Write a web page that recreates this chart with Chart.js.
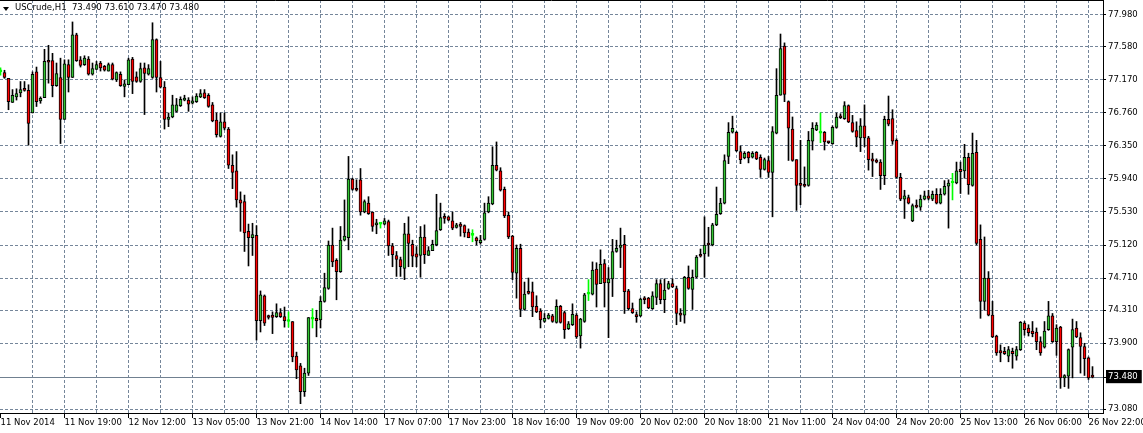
<!DOCTYPE html>
<html>
<head>
<meta charset="utf-8">
<title>USCrude H1</title>
<script src="https://cdn.jsdelivr.net/npm/chart.js@4.4.1/dist/chart.umd.min.js"></script>
<style>
  html, body { margin: 0; padding: 0; background: #fff; }
  #wrap { position: relative; width: 1143px; height: 433px; overflow: hidden; }
  #title { position: absolute; left: 15px; top: 2px; font: 8.5px "DejaVu Sans", sans-serif; color: #000; white-space: pre; }
  #arrow { position: absolute; left: 3px; top: 7px; width: 0; height: 0;
           border-left: 3px solid transparent; border-right: 3px solid transparent; border-top: 4px solid #000; }
</style>
</head>
<body>
<div id="wrap">
  <canvas id="chart" width="1143" height="433"></canvas>
  <div id="arrow"></div>
  <div id="title">USCrude,H1  73.490 73.610 73.470 73.480</div>
</div>
<script>
// hourly bars, 11 Nov 2014 -> 26 Nov 2014
const open = [
  77.27,77.26,77.19,76.89,76.96,77.01,77.05,77.04,76.76,77.27,76.91,76.95,77.40,77.41,77.10,77.20,
  76.68,77.36,77.20,77.73,77.42,77.36,77.43,77.24,77.30,77.38,77.34,77.28,77.36,77.17,77.24,77.09,
  77.11,77.43,77.21,77.15,77.32,77.24,77.20,77.67,77.20,77.08,76.68,76.71,76.78,76.85,76.92,76.92,
  76.88,76.90,76.96,77.01,76.98,76.86,76.67,76.47,76.65,76.56,76.11,76.04,75.68,75.66,75.29,75.21,
  75.24,74.18,74.49,74.23,74.25,74.23,74.28,74.23,74.17,74.17,73.74,73.62,73.30,73.53,74.20,74.21,
  74.19,74.42,74.58,75.12,74.93,74.79,75.18,75.21,75.94,75.81,75.93,75.53,75.64,75.53,75.37,75.38,
  75.38,75.41,75.11,74.99,74.94,74.83,75.26,75.13,75.01,74.99,75.22,74.99,75.05,75.12,75.31,75.46,
  75.47,75.42,75.34,75.38,75.36,75.28,75.24,75.21,75.15,75.19,75.53,75.63,76.11,76.04,75.81,75.49,
  75.23,74.77,75.08,74.32,74.53,74.54,74.36,74.30,74.17,74.21,74.24,74.16,74.36,74.28,74.08,74.13,
  74.25,73.99,74.17,74.51,74.51,74.82,74.64,74.89,74.65,74.70,75.04,75.09,75.13,74.55,74.33,74.24,
  74.24,74.45,74.46,74.33,74.47,74.64,74.44,74.58,74.64,74.58,74.26,74.25,74.72,74.57,74.72,74.99,
  75.01,75.13,75.12,75.37,75.51,75.64,76.22,76.52,76.52,76.28,76.20,76.27,76.21,76.27,76.21,76.06,
  76.17,76.02,76.51,76.98,77.59,76.90,76.56,76.18,75.87,75.86,75.86,76.41,76.55,76.51,76.52,76.40,
  76.38,76.58,76.71,76.69,76.85,76.64,76.54,76.45,76.60,76.45,76.19,76.17,76.15,75.98,76.68,76.69,
  76.42,75.96,75.69,75.71,75.42,75.60,75.59,75.69,75.73,75.69,75.75,75.64,75.75,75.85,75.89,75.89,
  76.06,76.04,76.21,75.86,76.27,75.19,74.42,74.71,74.25,73.99,73.81,73.80,73.74,73.80,73.74,73.82,
  74.15,74.09,74.05,74.04,73.92,73.85,74.07,74.24,73.92,74.10,73.47,73.49,73.85,74.09,73.97,73.86,
  73.72,73.49
];
const high = [
  77.32,77.29,77.19,77.05,77.06,77.15,77.15,77.11,77.27,77.33,76.96,77.55,77.60,77.50,77.38,77.44,
  77.42,77.42,77.89,77.75,77.46,77.47,77.46,77.38,77.40,77.40,77.35,77.38,77.38,77.27,77.27,77.17,
  77.44,77.45,77.27,77.38,77.38,77.36,77.88,77.68,77.40,77.15,76.76,76.98,76.94,76.96,76.98,76.95,
  76.96,77.00,77.05,77.05,77.00,76.89,76.76,76.76,76.76,76.58,76.24,76.28,75.78,75.74,75.38,75.39,
  75.36,74.55,74.50,74.25,74.29,74.39,74.33,74.35,74.29,74.17,73.79,73.65,73.59,74.22,74.33,74.31,
  74.48,74.77,75.17,75.33,74.95,75.35,75.68,76.22,75.95,75.93,76.07,75.68,75.72,75.53,75.44,75.38,
  75.45,75.43,75.14,75.04,74.97,75.39,75.47,75.18,75.10,75.35,75.37,75.10,75.18,75.75,75.64,75.51,
  75.48,75.53,75.39,75.40,75.37,75.32,75.31,75.22,75.24,75.64,75.72,76.34,76.40,76.08,75.84,75.53,
  75.24,75.12,75.13,74.66,74.71,74.66,74.49,74.33,74.27,74.27,74.26,74.44,74.37,74.30,74.17,74.39,
  74.27,74.21,74.52,74.69,74.91,74.90,75.06,74.94,74.84,75.19,75.18,75.33,75.24,74.57,74.40,74.29,
  74.46,74.48,74.47,74.54,74.69,74.69,74.70,74.67,74.70,74.61,74.33,74.73,74.86,74.81,74.99,75.07,
  75.47,75.34,75.39,75.84,75.70,76.24,76.64,76.72,76.53,76.35,76.28,76.28,76.28,76.28,76.24,76.20,
  76.22,76.59,77.31,77.74,77.63,76.91,76.71,76.18,76.42,76.09,76.53,76.64,76.64,76.76,76.53,76.41,
  76.60,76.76,76.75,76.90,76.86,76.73,76.65,76.69,76.86,76.47,76.26,76.19,76.18,76.72,76.97,76.80,
  76.44,76.01,75.80,75.74,75.63,75.68,75.74,75.79,75.80,75.79,75.82,75.82,75.92,75.93,76.01,76.15,
  76.15,76.37,76.26,76.51,76.42,75.37,75.22,74.79,74.42,74.00,73.88,73.85,73.86,73.84,73.86,74.17,
  74.17,74.13,74.17,74.09,73.98,74.17,74.42,74.27,74.13,74.11,73.51,73.83,74.20,74.17,74.03,73.90,
  73.73,73.61
];
const low = [
  77.23,77.19,76.80,76.89,76.92,76.96,77.03,76.36,76.76,76.84,76.88,76.95,77.13,76.96,77.09,76.38,
  76.68,77.02,77.20,77.40,77.33,77.35,77.23,77.23,77.30,77.28,77.28,77.28,77.17,77.15,77.09,76.96,
  77.11,77.00,77.14,77.14,76.74,77.23,77.19,77.02,77.07,76.56,76.59,76.70,76.77,76.84,76.91,76.78,
  76.87,76.89,76.95,76.94,76.83,76.65,76.46,76.46,76.55,76.07,75.82,75.59,75.29,75.04,74.86,74.99,
  73.94,74.04,74.12,74.20,74.02,74.22,74.22,74.10,74.10,73.67,73.46,73.15,73.24,73.50,74.09,73.98,
  74.09,74.41,74.57,74.85,74.44,74.78,75.17,75.06,75.80,75.79,75.49,75.52,75.50,75.29,75.26,75.33,
  75.37,74.99,74.85,74.73,74.73,74.69,74.85,74.85,74.85,74.72,74.89,74.99,75.05,75.11,75.30,75.39,
  75.42,75.31,75.33,75.23,75.22,75.21,75.16,75.12,75.13,75.18,75.52,75.62,76.04,75.79,75.46,75.20,
  74.69,74.46,74.23,74.31,74.51,74.23,74.28,74.09,74.16,74.20,74.16,74.15,74.15,73.96,74.07,74.12,
  73.96,73.84,74.16,74.43,74.50,74.35,74.64,74.35,73.97,74.48,75.03,74.84,74.27,74.31,74.27,74.16,
  74.23,74.39,74.33,74.32,74.38,74.39,74.28,74.57,74.59,74.13,74.17,74.15,74.57,74.32,74.71,74.97,
  74.72,74.98,75.11,75.36,75.50,75.63,76.13,76.51,76.28,76.13,76.19,76.14,76.20,76.18,75.96,76.05,
  75.96,75.47,76.50,76.98,76.90,76.17,76.16,75.55,75.62,75.84,75.85,76.30,76.54,76.39,76.30,76.38,
  76.37,76.57,76.69,76.68,76.64,76.52,76.34,76.28,76.34,76.05,75.97,76.14,75.81,75.87,76.60,76.37,
  75.95,75.67,75.45,75.63,75.41,75.58,75.55,75.68,75.68,75.67,75.63,75.63,75.74,75.33,75.68,75.88,
  75.76,75.95,75.75,75.85,75.12,74.21,74.31,74.24,73.97,73.75,73.67,73.76,73.67,73.59,73.69,73.81,
  74.00,73.99,73.98,73.82,73.75,73.84,74.06,73.91,73.75,73.34,73.36,73.34,73.47,73.97,73.53,73.50,
  73.45,73.47
];
const close = [
  77.27,77.20,76.90,76.98,77.00,77.05,77.04,76.63,77.24,76.90,76.94,77.40,77.39,77.10,77.25,76.68,
  77.37,77.20,77.73,77.41,77.35,77.44,77.24,77.31,77.36,77.32,77.29,77.36,77.18,77.26,77.10,77.12,
  77.42,77.15,77.15,77.31,77.25,77.31,77.67,77.20,77.08,76.68,76.71,76.86,76.86,76.93,76.94,76.87,
  76.91,76.97,77.00,76.95,76.84,76.66,76.49,76.65,76.57,76.11,76.02,75.68,75.64,75.27,75.21,75.25,
  74.18,74.50,74.15,74.22,74.22,74.28,74.23,74.18,74.17,73.73,73.57,73.30,73.53,74.22,74.20,74.18,
  74.42,74.59,75.12,74.91,74.79,75.18,75.23,75.94,75.81,75.80,75.53,75.66,75.51,75.35,75.39,75.38,
  75.42,75.11,75.00,74.94,74.85,75.26,75.14,74.98,74.97,75.22,75.00,75.05,75.13,75.30,75.46,75.45,
  75.43,75.33,75.37,75.35,75.27,75.21,75.24,75.17,75.18,75.52,75.64,76.11,76.05,75.80,75.48,75.22,
  74.78,75.08,74.32,74.51,74.52,74.35,74.29,74.19,74.21,74.25,74.17,74.36,74.16,74.07,74.14,74.26,
  73.98,74.20,74.50,74.51,74.81,74.63,74.88,74.65,74.70,75.04,75.08,75.12,74.54,74.33,74.28,74.23,
  74.45,74.44,74.34,74.49,74.64,74.44,74.56,74.64,74.60,74.27,74.25,74.72,74.58,74.72,74.97,74.98,
  75.12,75.12,75.37,75.50,75.64,76.17,76.52,76.57,76.29,76.18,76.26,76.20,76.26,76.19,76.06,76.18,
  76.02,76.53,76.98,77.56,76.99,76.57,76.17,75.86,75.86,75.85,76.42,76.57,76.61,76.51,76.40,76.39,
  76.58,76.71,76.70,76.85,76.65,76.53,76.46,76.60,76.45,76.18,76.16,76.15,75.98,76.68,76.62,76.41,
  75.96,75.69,75.73,75.64,75.61,75.59,75.69,75.73,75.70,75.75,75.64,75.75,75.85,75.89,75.89,76.04,
  76.03,76.21,75.87,76.26,75.14,74.42,74.71,74.25,73.98,73.78,73.78,73.77,73.82,73.77,73.82,74.16,
  74.07,74.03,74.02,73.92,73.78,74.05,74.24,73.92,74.09,73.47,73.50,73.82,74.07,73.98,73.86,73.71,
  73.47,73.48
];

// one label every 16 bars
const timeLabels = [
  '11 Nov 2014', '11 Nov 19:00', '12 Nov 12:00', '13 Nov 05:00', '13 Nov 21:00', '14 Nov 14:00',
  '17 Nov 07:00', '17 Nov 23:00', '18 Nov 16:00', '19 Nov 09:00', '20 Nov 02:00', '20 Nov 18:00',
  '21 Nov 11:00', '24 Nov 04:00', '24 Nov 20:00', '25 Nov 13:00', '26 Nov 06:00', '26 Nov 22:00'
];
const priceTicks = [73.08, 73.90, 74.31, 74.71, 75.12, 75.53, 75.94, 76.35, 76.76, 77.17, 77.58, 77.98];
const lastClose = close[close.length - 1];

const RED = '#ff0000', GREEN = '#33c433', LIME = '#00ff00';
const gridColor = '#75869a';
const font = { family: 'DejaVu Sans', size: 8.5 };

const isDoji = i => open[i] === close[i];
const bodyColors = open.map((o, i) => isDoji(i) ? LIME : (close[i] > o ? GREEN : RED));
const edgeColors = open.map((o, i) => isDoji(i) ? LIME : '#000');

const priceLine = {
  id: 'priceLine',
  beforeDatasetsDraw(chart) {
    const { ctx, chartArea, scales } = chart;
    const y = Math.round(scales.y.getPixelForValue(lastClose)) + 0.5;
    ctx.save();
    ctx.lineWidth = 1;
    ctx.strokeStyle = '#708090';
    ctx.beginPath();
    ctx.moveTo(chartArea.left, y);
    ctx.lineTo(chartArea.right, y);
    ctx.stroke();
    ctx.strokeStyle = '#000';
    ctx.beginPath();
    ctx.moveTo(0, 0.5);
    ctx.lineTo(chartArea.right, 0.5);
    ctx.stroke();
    ctx.restore();
  }
};

Chart.defaults.font.family = font.family;
Chart.defaults.font.size = font.size;
Chart.defaults.color = '#000';

new Chart(document.getElementById('chart').getContext('2d'), {
  type: 'bar',
  data: {
    datasets: [
      {
        label: 'Body',
        data: open.map((o, i) => ({ x: i, y: [o, close[i]] })),
        backgroundColor: bodyColors,
        borderColor: edgeColors,
        borderWidth: 1,
        borderSkipped: false,
        barThickness: 3,
        minBarLength: 2,
        grouped: false
      },
      {
        label: 'Range',
        data: low.map((l, i) => ({ x: i, y: [l, high[i]] })),
        backgroundColor: edgeColors,
        borderWidth: 0,
        barThickness: 1,
        grouped: false
      }
    ]
  },
  options: {
    responsive: false,
    animation: false,
    events: [],
    layout: { padding: 0, autoPadding: false },
    plugins: { legend: { display: false }, tooltip: { enabled: false } },
    scales: {
      x: {
        type: 'linear',
        offset: false,
        min: -0.125,
        max: 275.625,
        afterBuildTicks: scale => {
          const t = [];
          for (let i = 0; i < open.length; i += 8) t.push({ value: i });
          scale.ticks = t;
        },
        afterFit: scale => { scale.height = 20; scale.paddingLeft = 0; scale.paddingRight = 0; },
        grid: {
          offset: false,
          color: ctx => (ctx.tick && ctx.tick.value === 0) ? 'rgba(0,0,0,0)' : gridColor,
          tickColor: ctx => (ctx.tick && ctx.tick.value % 16 === 0) ? '#000' : 'rgba(0,0,0,0)',
          tickLength: 5
        },
        border: { color: '#000', dash: [3, 2] },
        ticks: {
          align: 'start',
          autoSkip: false,
          maxRotation: 0,
          padding: 0,
          callback: v => v % 16 === 0 ? timeLabels[v / 16] : ''
        }
      },
      y: {
        position: 'right',
        min: 73.034,
        max: 78.1625,
        afterBuildTicks: scale => {
          scale.ticks = priceTicks.concat([lastClose]).map(v => ({ value: v }));
        },
        afterFit: scale => { scale.width = 40; scale.paddingTop = 0; scale.paddingBottom = 0; },
        grid: { color: gridColor, tickColor: '#000', tickLength: 3 },
        border: { color: '#000', dash: [3, 2] },
        ticks: {
          padding: 2,
          color: ctx => ctx.tick && ctx.tick.value === lastClose ? '#fff' : '#000',
          showLabelBackdrop: ctx => !!(ctx.tick && ctx.tick.value === lastClose),
          backdropColor: '#000',
          backdropPadding: { top: 2, bottom: 1, left: 2, right: 4 },
          callback: v => Number(v).toFixed(3)
        }
      }
    }
  },
  plugins: [priceLine]
});
</script>
</body>
</html>
